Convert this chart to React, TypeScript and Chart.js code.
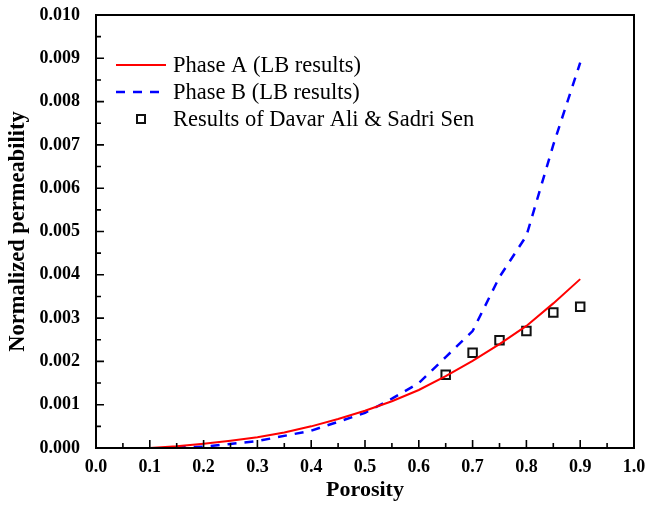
import React, { useEffect, useRef } from "react";
import { Chart, registerables } from "chart.js";

Chart.register(...registerables);

// Phase A (lattice Boltzmann)
const porosityA = [0.1, 0.15, 0.2, 0.25, 0.3, 0.35, 0.4, 0.45, 0.5, 0.55, 0.6, 0.65, 0.7, 0.75, 0.8, 0.85, 0.9];
const permA = [0, 0.00004, 0.0001, 0.00017, 0.00025, 0.00036, 0.0005, 0.00067, 0.00086, 0.00108, 0.00134, 0.00166, 0.00201, 0.0024, 0.00282, 0.00334, 0.0039];

// Phase B (lattice Boltzmann)
const porosityB = [0.15, 0.2, 0.3, 0.4, 0.5, 0.55, 0.6, 0.65, 0.7, 0.75, 0.8, 0.85, 0.9];
const permB = [0.00001, 0.00003, 0.00016, 0.0004, 0.00081, 0.00114, 0.0015, 0.0021, 0.0027, 0.00395, 0.0049, 0.007, 0.0089];

// Reference results
const porosityRef = [0.65, 0.7, 0.75, 0.8, 0.85, 0.9];
const permRef = [0.00169, 0.0022, 0.00249, 0.0027, 0.00313, 0.00326];

const legendLabels = [
  "Phase A (LB results)",
  "Phase B (LB results)",
  "Results of Davar Ali & Sadri Sen",
];

const serif = "'Liberation Serif', 'Times New Roman', serif";

const zip = (xs: number[], ys: number[]) => xs.map((x, i) => ({ x, y: ys[i] }));

// Frame, inward major/minor ticks and the inset legend
const framePlugin = {
  id: "frameTicksLegend",
  afterDraw(chart: any) {
    const { ctx, chartArea, scales } = chart;
    const { left, right, top, bottom } = chartArea;
    ctx.save();
    ctx.strokeStyle = "#000";
    ctx.lineWidth = 1.6;

    const xs = scales.x;
    const ys = scales.y;
    const major = 8;
    const minor = 5;

    const xv: number[] = xs.ticks.map((t: any) => t.value);
    ctx.beginPath();
    xv.forEach((v, i) => {
      const px = xs.getPixelForValue(v);
      ctx.moveTo(px, bottom);
      ctx.lineTo(px, bottom - major);
      if (i < xv.length - 1) {
        const mx = xs.getPixelForValue((v + xv[i + 1]) / 2);
        ctx.moveTo(mx, bottom);
        ctx.lineTo(mx, bottom - minor);
      }
    });
    const yv: number[] = ys.ticks.map((t: any) => t.value);
    yv.forEach((v, i) => {
      const py = ys.getPixelForValue(v);
      ctx.moveTo(left, py);
      ctx.lineTo(left + major, py);
      if (i < yv.length - 1) {
        const my = ys.getPixelForValue((v + yv[i + 1]) / 2);
        ctx.moveTo(left, my);
        ctx.lineTo(left + minor, my);
      }
    });
    ctx.stroke();

    ctx.lineWidth = 2;
    ctx.strokeRect(left, top, right - left, bottom - top);

    // legend
    const ds = chart.data.datasets;
    const lx = 116;
    const sampleW = 50;
    const tx = 173;
    const rowsY = [65, 92, 119];
    ctx.font = `22.5px ${serif}`;
    ctx.textBaseline = "middle";
    ctx.textAlign = "left";
    ds.forEach((d: any, i: number) => {
      const y = rowsY[i];
      if (d.showLine) {
        ctx.beginPath();
        ctx.strokeStyle = d.borderColor;
        ctx.lineWidth = d.borderWidth;
        ctx.setLineDash(d.borderDash || []);
        ctx.moveTo(lx, y);
        ctx.lineTo(lx + sampleW, y);
        ctx.stroke();
        ctx.setLineDash([]);
      } else {
        const s = 8;
        ctx.strokeStyle = d.pointBorderColor;
        ctx.fillStyle = d.pointBackgroundColor;
        ctx.lineWidth = d.pointBorderWidth;
        ctx.fillRect(lx + sampleW / 2 - s / 2, y - s / 2, s, s);
        ctx.strokeRect(lx + sampleW / 2 - s / 2, y - s / 2, s, s);
      }
      ctx.fillStyle = "#000";
      ctx.fillText(d.label, tx, y + 1);
    });
    ctx.restore();
  },
};

export default function App() {
  const ref = useRef<HTMLCanvasElement | null>(null);

  useEffect(() => {
    document.body.style.margin = "0";
    const canvas = ref.current;
    if (!canvas) return;
    const chart = new Chart(canvas, {
      type: "scatter",
      data: {
        datasets: [
          {
            label: legendLabels[0],
            data: zip(porosityA, permA),
            showLine: true,
            borderColor: "#ff0000",
            borderWidth: 2,
            pointRadius: 0,
            tension: 0,
          },
          {
            label: legendLabels[1],
            data: zip(porosityB, permB),
            showLine: true,
            borderColor: "#0000ff",
            borderWidth: 2.5,
            borderDash: [9, 8],
            pointRadius: 0,
            tension: 0,
          },
          {
            label: legendLabels[2],
            data: zip(porosityRef, permRef),
            showLine: false,
            pointStyle: "rect",
            pointRadius: 6,
            pointBorderWidth: 2,
            pointBorderColor: "#111",
            pointBackgroundColor: "#fff",
          },
        ],
      },
      options: {
        responsive: false,
        devicePixelRatio: 1,
        animation: false,
        layout: { padding: { top: 15, right: 15, bottom: 0, left: 0 } },
        plugins: { legend: { display: false }, tooltip: { enabled: false } },
        scales: {
          x: {
            type: "linear",
            min: 0,
            max: 1,
            grid: { display: false, drawTicks: false },
            border: { display: false },
            ticks: {
              stepSize: 0.1,
              padding: 9,
              color: "#000",
              font: { family: serif, size: 18, weight: "bold" },
              callback: (v: any) => Number(v).toFixed(1),
            },
            title: {
              display: true,
              text: "Porosity",
              color: "#000",
              padding: { top: 0, bottom: 1 },
              font: { family: serif, size: 22, weight: "bold" },
            },
            afterFit: (s: any) => {
              s.height = 57;
              s.paddingLeft = 0;
              s.paddingRight = 0;
            },
          },
          y: {
            type: "linear",
            min: 0,
            max: 0.01,
            grid: { display: false, drawTicks: false },
            border: { display: false },
            ticks: {
              stepSize: 0.001,
              padding: 16,
              color: "#000",
              font: { family: serif, size: 18, weight: "bold" },
              callback: (v: any) => Number(v).toFixed(3),
            },
            title: {
              display: true,
              text: "Normalized permeability",
              color: "#000",
              padding: { top: 5, bottom: 0 },
              font: { family: serif, size: 22.5, weight: "bold" },
            },
            afterFit: (s: any) => {
              s.width = 96;
              s.paddingTop = 0;
              s.paddingBottom = 0;
            },
          },
        },
      },
      plugins: [framePlugin],
    });
    return () => chart.destroy();
  }, []);

  return (
    <div style={{ width: 649, height: 505 }}>
      <canvas ref={ref} width={649} height={505} />
    </div>
  );
}
